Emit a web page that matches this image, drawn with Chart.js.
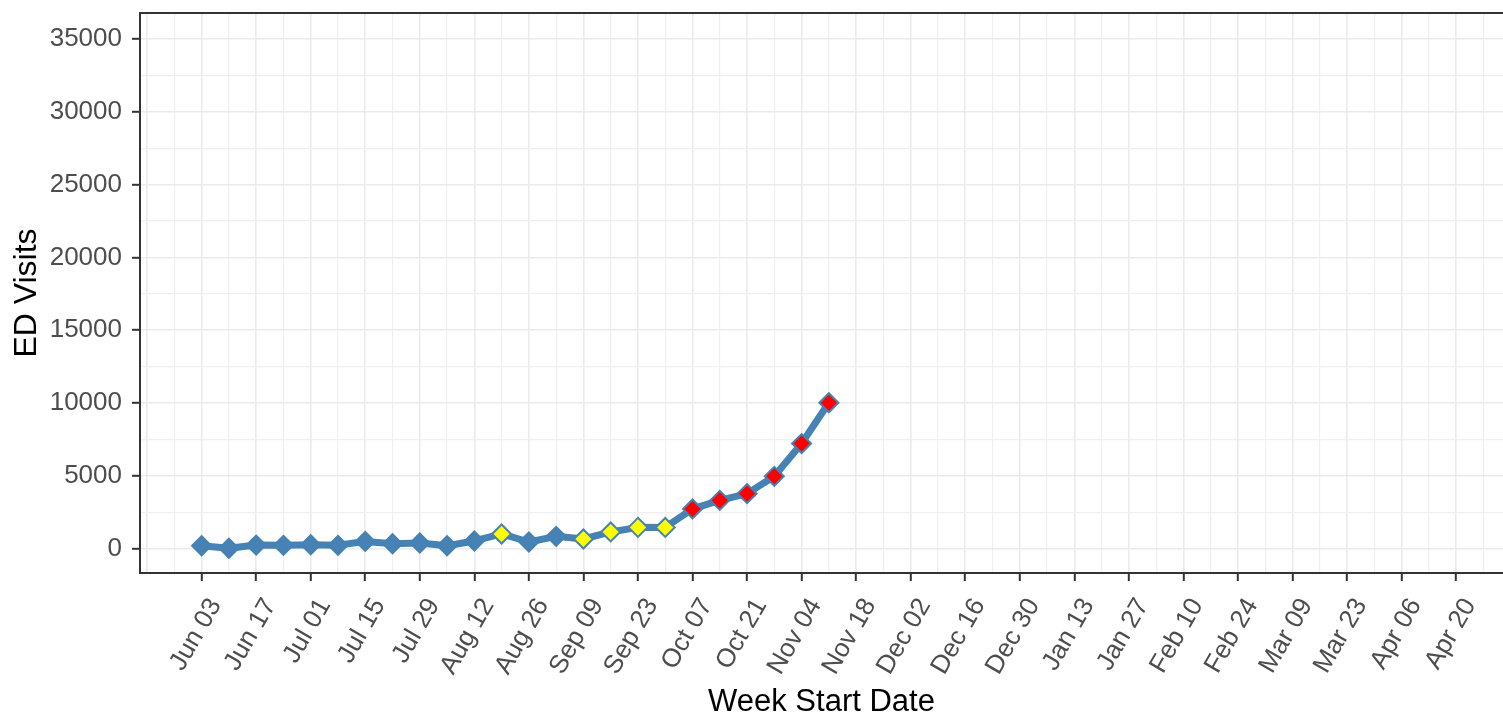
<!DOCTYPE html>
<html>
<head>
<meta charset="utf-8">
<title>ED Visits</title>
<script src="https://cdn.jsdelivr.net/npm/chart.js@4.4.1/dist/chart.umd.min.js"></script>
<style>
    html, body { margin: 0; padding: 0; background: #ffffff; overflow: hidden; }
    canvas { display: block; }
</style>
</head>
<body>
<canvas id="ed-chart" width="1503" height="718"></canvas>
<script>
// semanas (lunes) desde Jun 03 hasta Apr 20
const weekLabels = [
    'Jun 03', 'Jun 10', 'Jun 17', 'Jun 24', 'Jul 01', 'Jul 08', 'Jul 15', 'Jul 22', 'Jul 29',
    'Aug 05', 'Aug 12', 'Aug 19', 'Aug 26', 'Sep 02', 'Sep 09', 'Sep 16', 'Sep 23', 'Sep 30',
    'Oct 07', 'Oct 14', 'Oct 21', 'Oct 28', 'Nov 04', 'Nov 11', 'Nov 18', 'Nov 25',
    'Dec 02', 'Dec 09', 'Dec 16', 'Dec 23', 'Dec 30', 'Jan 06', 'Jan 13', 'Jan 20', 'Jan 27',
    'Feb 03', 'Feb 10', 'Feb 17', 'Feb 24', 'Mar 02', 'Mar 09', 'Mar 16', 'Mar 23', 'Mar 30',
    'Apr 06', 'Apr 13', 'Apr 20'
];

// visitas semanales (Jun 03 .. Nov 11)
const edVisits = [
    200, 30, 250, 230, 270, 230, 500, 340, 390, 200, 530, 1010,
    460, 850, 665, 1150, 1465, 1460, 2730, 3320, 3780, 4970, 7220, 10020
];

// nivel de alerta de cada semana
const alertLevel = [
    'none', 'none', 'none', 'none', 'none', 'none', 'none', 'none', 'none', 'none', 'none', 'moderate',
    'none', 'none', 'moderate', 'moderate', 'moderate', 'moderate', 'high', 'high', 'high', 'high', 'high', 'high'
];

const yTickValues = [0, 5000, 10000, 15000, 20000, 25000, 30000, 35000];

const levelColors = { none: '#4682B4', moderate: '#FFFF00', high: '#FF0000' };
const lineColor = '#4682B4';
const fontFamily = "'Liberation Sans', Arial, sans-serif";

// borde del panel (arriba, izquierda, abajo; la derecha queda fuera de la imagen)
const panelBorder = {
    id: 'panelBorder',
    beforeDatasetsDraw(chart) {
        const { ctx, chartArea } = chart;
        ctx.save();
        ctx.strokeStyle = '#333333';
        ctx.lineWidth = 2;
        ctx.beginPath();
        ctx.moveTo(chartArea.right + 2, chartArea.top);
        ctx.lineTo(chartArea.left, chartArea.top);
        ctx.lineTo(chartArea.left, chartArea.bottom);
        ctx.lineTo(chartArea.right + 2, chartArea.bottom);
        ctx.stroke();
        ctx.restore();
    }
};

// sin relleno extra por las etiquetas de los extremos
const noEdgePadding = scale => {
    scale.paddingTop = 0;
    scale.paddingBottom = 0;
    scale.paddingLeft = 0;
    scale.paddingRight = 0;
};

const chart = new Chart(document.getElementById('ed-chart'), {
    type: 'line',
    data: {
        datasets: [{
            label: 'ED Visits',
            data: edVisits.map((v, i) => ({ x: i, y: v })),
            borderColor: lineColor,
            borderWidth: 7,
            borderJoinStyle: 'round',
            borderCapStyle: 'round',
            tension: 0,
            fill: false,
            pointStyle: 'rectRot',
            pointRadius: 9.5,
            pointBorderWidth: 2,
            pointBorderColor: lineColor,
            pointBackgroundColor: alertLevel.map(l => levelColors[l])
        }]
    },
    options: {
        responsive: false,
        animation: false,
        devicePixelRatio: 1,
        layout: { autoPadding: false, padding: { top: 13, left: 0, right: 0, bottom: 0 } },
        plugins: {
            legend: { display: false },
            tooltip: { enabled: false }
        },
        scales: {
            x: {
                type: 'linear',
                min: -2.26,
                max: 47.72,
                afterBuildTicks: scale => {
                    const ticks = [];
                    for (let i = -2; i <= 47; i++) ticks.push({ value: i });
                    scale.ticks = ticks;
                },
                afterFit: scale => { scale.height = 145; noEdgePadding(scale); },
                border: { display: false },
                grid: {
                    color: ctx => (ctx.tick && ctx.tick.value % 2 === 0) ? '#EBEBEB' : '#F0F0F0',
                    lineWidth: ctx => (ctx.tick && ctx.tick.value % 2 === 0) ? 1.6 : 1.2,
                    tickLength: 8,
                    tickWidth: 2,
                    tickColor: ctx => {
                        const v = ctx.tick ? ctx.tick.value : -1;
                        return (v >= 0 && v < weekLabels.length && v % 2 === 0) ? '#333333' : 'rgba(0,0,0,0)';
                    }
                },
                ticks: {
                    autoSkip: false,
                    maxRotation: 60,
                    minRotation: 60,
                    padding: 12,
                    labelOffset: 14,
                    color: '#4D4D4D',
                    font: { family: fontFamily, size: 26 },
                    callback: v => (v >= 0 && v < weekLabels.length && v % 2 === 0) ? weekLabels[v] : ''
                },
                title: {
                    display: true,
                    text: 'Week Start Date',
                    color: '#000000',
                    font: { family: fontFamily, size: 31, lineHeight: 1 },
                    padding: { top: 0, bottom: 0 }
                }
            },
            y: {
                min: -1670,
                max: 36790,
                afterBuildTicks: scale => {
                    const ticks = [];
                    yTickValues.forEach((v, i) => {
                        ticks.push({ value: v });
                        if (i < yTickValues.length - 1) ticks.push({ value: (v + yTickValues[i + 1]) / 2 });
                    });
                    scale.ticks = ticks;
                },
                afterFit: scale => { scale.width = 140; noEdgePadding(scale); },
                border: { display: false },
                grid: {
                    color: ctx => (ctx.tick && yTickValues.includes(ctx.tick.value)) ? '#EBEBEB' : '#F0F0F0',
                    lineWidth: ctx => (ctx.tick && yTickValues.includes(ctx.tick.value)) ? 1.6 : 1.2,
                    tickLength: 8,
                    tickWidth: 2,
                    tickColor: ctx => (ctx.tick && yTickValues.includes(ctx.tick.value)) ? '#333333' : 'rgba(0,0,0,0)'
                },
                ticks: {
                    padding: 10,
                    color: '#4D4D4D',
                    font: { family: fontFamily, size: 26 },
                    callback: v => yTickValues.includes(v) ? String(v) : ''
                },
                title: {
                    display: true,
                    text: 'ED Visits',
                    color: '#000000',
                    font: { family: fontFamily, size: 32, lineHeight: 1 },
                    padding: { top: 11, bottom: 0 }
                }
            }
        }
    },
    plugins: [panelBorder]
});
</script>
</body>
</html>
